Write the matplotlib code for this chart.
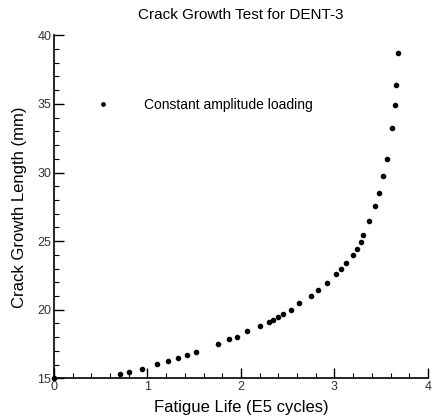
import matplotlib
matplotlib.use("Agg")
import matplotlib.pyplot as plt
from matplotlib.ticker import MultipleLocator

plt.rcParams['font.family'] = ['Liberation Sans', 'DejaVu Sans']

# Data
fatigue_life = [0.0, 0.703, 0.799, 0.938, 1.102, 1.216, 1.326, 1.422, 1.522, 1.754,
                1.875, 1.960, 2.067, 2.206, 2.296, 2.345, 2.399, 2.452, 2.535, 2.624,
                2.745, 2.827, 2.920, 3.019, 3.073, 3.126, 3.195, 3.238, 3.280, 3.308,
                3.371, 3.430, 3.481, 3.520, 3.558, 3.620, 3.647, 3.655, 3.674]
crack_length = [15.0, 15.29, 15.46, 15.70, 16.02, 16.28, 16.48, 16.70, 16.92, 17.53,
                17.89, 18.04, 18.43, 18.80, 19.11, 19.28, 19.45, 19.72, 20.01, 20.50,
                21.01, 21.47, 21.98, 22.59, 22.96, 23.44, 23.98, 24.46, 24.95, 25.48,
                26.47, 27.53, 28.51, 29.73, 30.99, 33.27, 34.93, 36.39, 38.72]
series_label = "Constant amplitude loading"
x_ticks = [0, 1, 2, 3, 4]
y_ticks = [15, 20, 25, 30, 35, 40]

fig = plt.figure(figsize=(4.32, 4.17), dpi=100)
ax = fig.add_axes([0.125, 0.0928, 0.8657, 0.8225])

ax.plot(fatigue_life, crack_length, linestyle='none', marker='o', markersize=3.0,
        color='black', label=series_label, clip_on=False)

ax.set_xlim(0, 4)
ax.set_ylim(15, 40)
ax.set_xticks(x_ticks)
ax.set_yticks(y_ticks)
ax.xaxis.set_minor_locator(MultipleLocator(0.2))
ax.yaxis.set_minor_locator(MultipleLocator(1))

for s in ['top', 'right']:
    ax.spines[s].set_visible(False)
for s in ['left', 'bottom']:
    ax.spines[s].set_linewidth(1.2)

ax.tick_params(which='major', direction='in', length=7, width=1.0,
               labelsize=9, labelcolor='#333333', pad=2)
ax.tick_params(which='minor', direction='in', length=3.5, width=0.8)

ax.set_title("Crack Growth Test for DENT-3", fontsize=11, pad=12)
ax.set_xlabel("Fatigue Life (E5 cycles)", fontsize=12, labelpad=5)
ax.set_ylabel("Crack Growth Length (mm)", fontsize=12, labelpad=7)

ax.legend(loc='center left', bbox_to_anchor=(0.112, 0.797), frameon=False,
          borderpad=0, borderaxespad=0,
          handlelength=1.0, handletextpad=2.45, fontsize=10, markerscale=0.8)

fig.savefig("out.png", dpi=100)
